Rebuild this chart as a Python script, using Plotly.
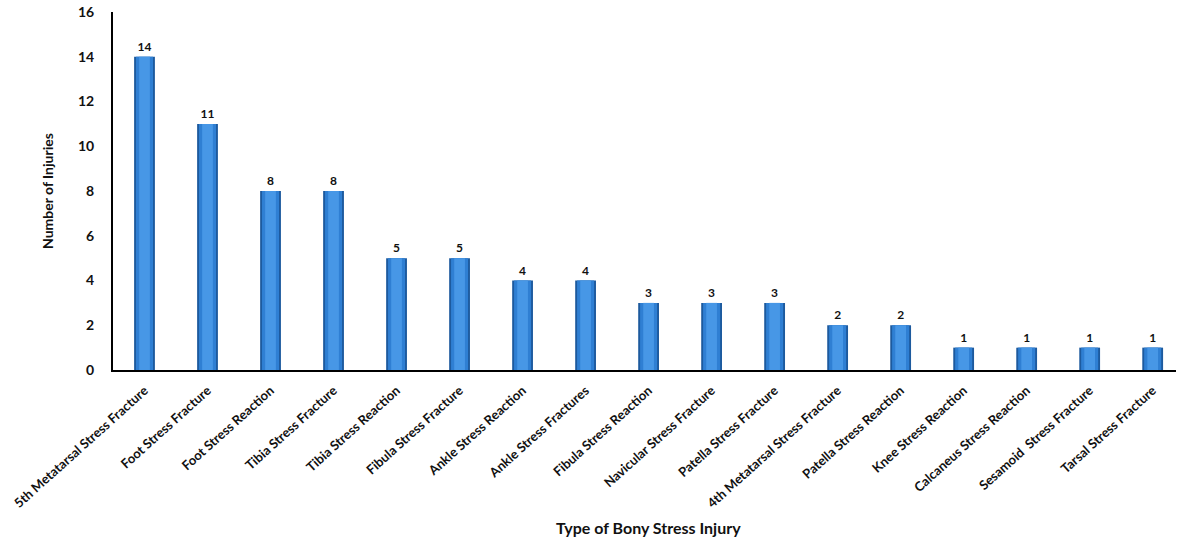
import plotly.graph_objects as go

categories = [
    "5th Metatarsal Stress Fracture", "Foot Stress Fracture", "Foot Stress Reaction",
    "Tibia Stress Fracture", "Tibia Stress Reaction", "Fibula Stress Fracture",
    "Ankle Stress Reaction", "Ankle Stress Fractures", "Fibula Stress Reaction",
    "Navicular Stress Fracture", "Patella Stress Fracture", "4th Metatarsal Stress Fracture",
    "Patella Stress Reaction", "Knee Stress Reaction", "Calcaneus Stress Reaction",
    "Sesamoid  Stress Fracture", "Tarsal Stress Fracture",
]
injuries = [14, 11, 8, 8, 5, 5, 4, 4, 3, 3, 3, 2, 2, 1, 1, 1, 1]
y_ticks = [0, 2, 4, 6, 8, 10, 12, 14, 16]

FONT = "Lato"
idx = list(range(len(categories)))

fig = go.Figure()
# layered bars to imitate the gradient shading
fig.add_trace(go.Bar(x=idx, y=injuries, width=0.33, marker=dict(color="#1d5a9e", line=dict(width=0)),
                     text=[str(v) for v in injuries], textposition="outside",
                     textfont=dict(family=FONT, size=12, color="#111111", weight="bold"),
                     cliponaxis=False, hoverinfo="skip"))
fig.add_trace(go.Bar(x=idx, y=injuries, width=0.27, marker=dict(color="#2f7fd3", line=dict(width=0)),
                     hoverinfo="skip"))
fig.add_trace(go.Bar(x=idx, y=injuries, width=0.17, marker=dict(color="#4797e6", line=dict(width=0)),
                     hoverinfo="skip"))

fig.update_layout(
    width=1177, height=538,
    margin=dict(l=113, r=1, t=12, b=168),
    paper_bgcolor="white", plot_bgcolor="white",
    barmode="overlay", showlegend=False,
    font=dict(family=FONT, size=12, color="#111111"),
    uniformtext=dict(minsize=12),
    xaxis=dict(
        range=[-0.5, 16.37], tickmode="array", tickvals=idx, ticktext=categories,
        tickangle=-42, tickfont=dict(family=FONT, size=13, color="#111111", weight="bold"),
        showline=True, linecolor="#000000", linewidth=2, showgrid=False, ticks="",
        ticklabelstandoff=6,
    ),
    yaxis=dict(
        range=[0, 16], tickmode="array", tickvals=y_ticks,
        tickfont=dict(family=FONT, size=14, color="#111111", weight="bold"),
        showline=True, linecolor="#000000", linewidth=2, showgrid=False, ticks="",
        ticklabelstandoff=14, zeroline=False,
    ),
    annotations=[
        dict(text="<b>Number of Injuries</b>", xref="paper", yref="paper", x=0, y=0.5,
             xanchor="center", yanchor="middle", textangle=-90, showarrow=False,
             font=dict(family=FONT, size=14, color="#111111"), xshift=47 - 113),
        dict(text="<b>Type of Bony Stress Injury</b>", xref="paper", yref="paper",
             x=(648 - 113) / (1177 - 113 - 1), y=0,
             xanchor="center", yanchor="middle", showarrow=False, yshift=-157,
             font=dict(family=FONT, size=16, color="#111111")),
    ],
)

fig.write_html("out.html")
